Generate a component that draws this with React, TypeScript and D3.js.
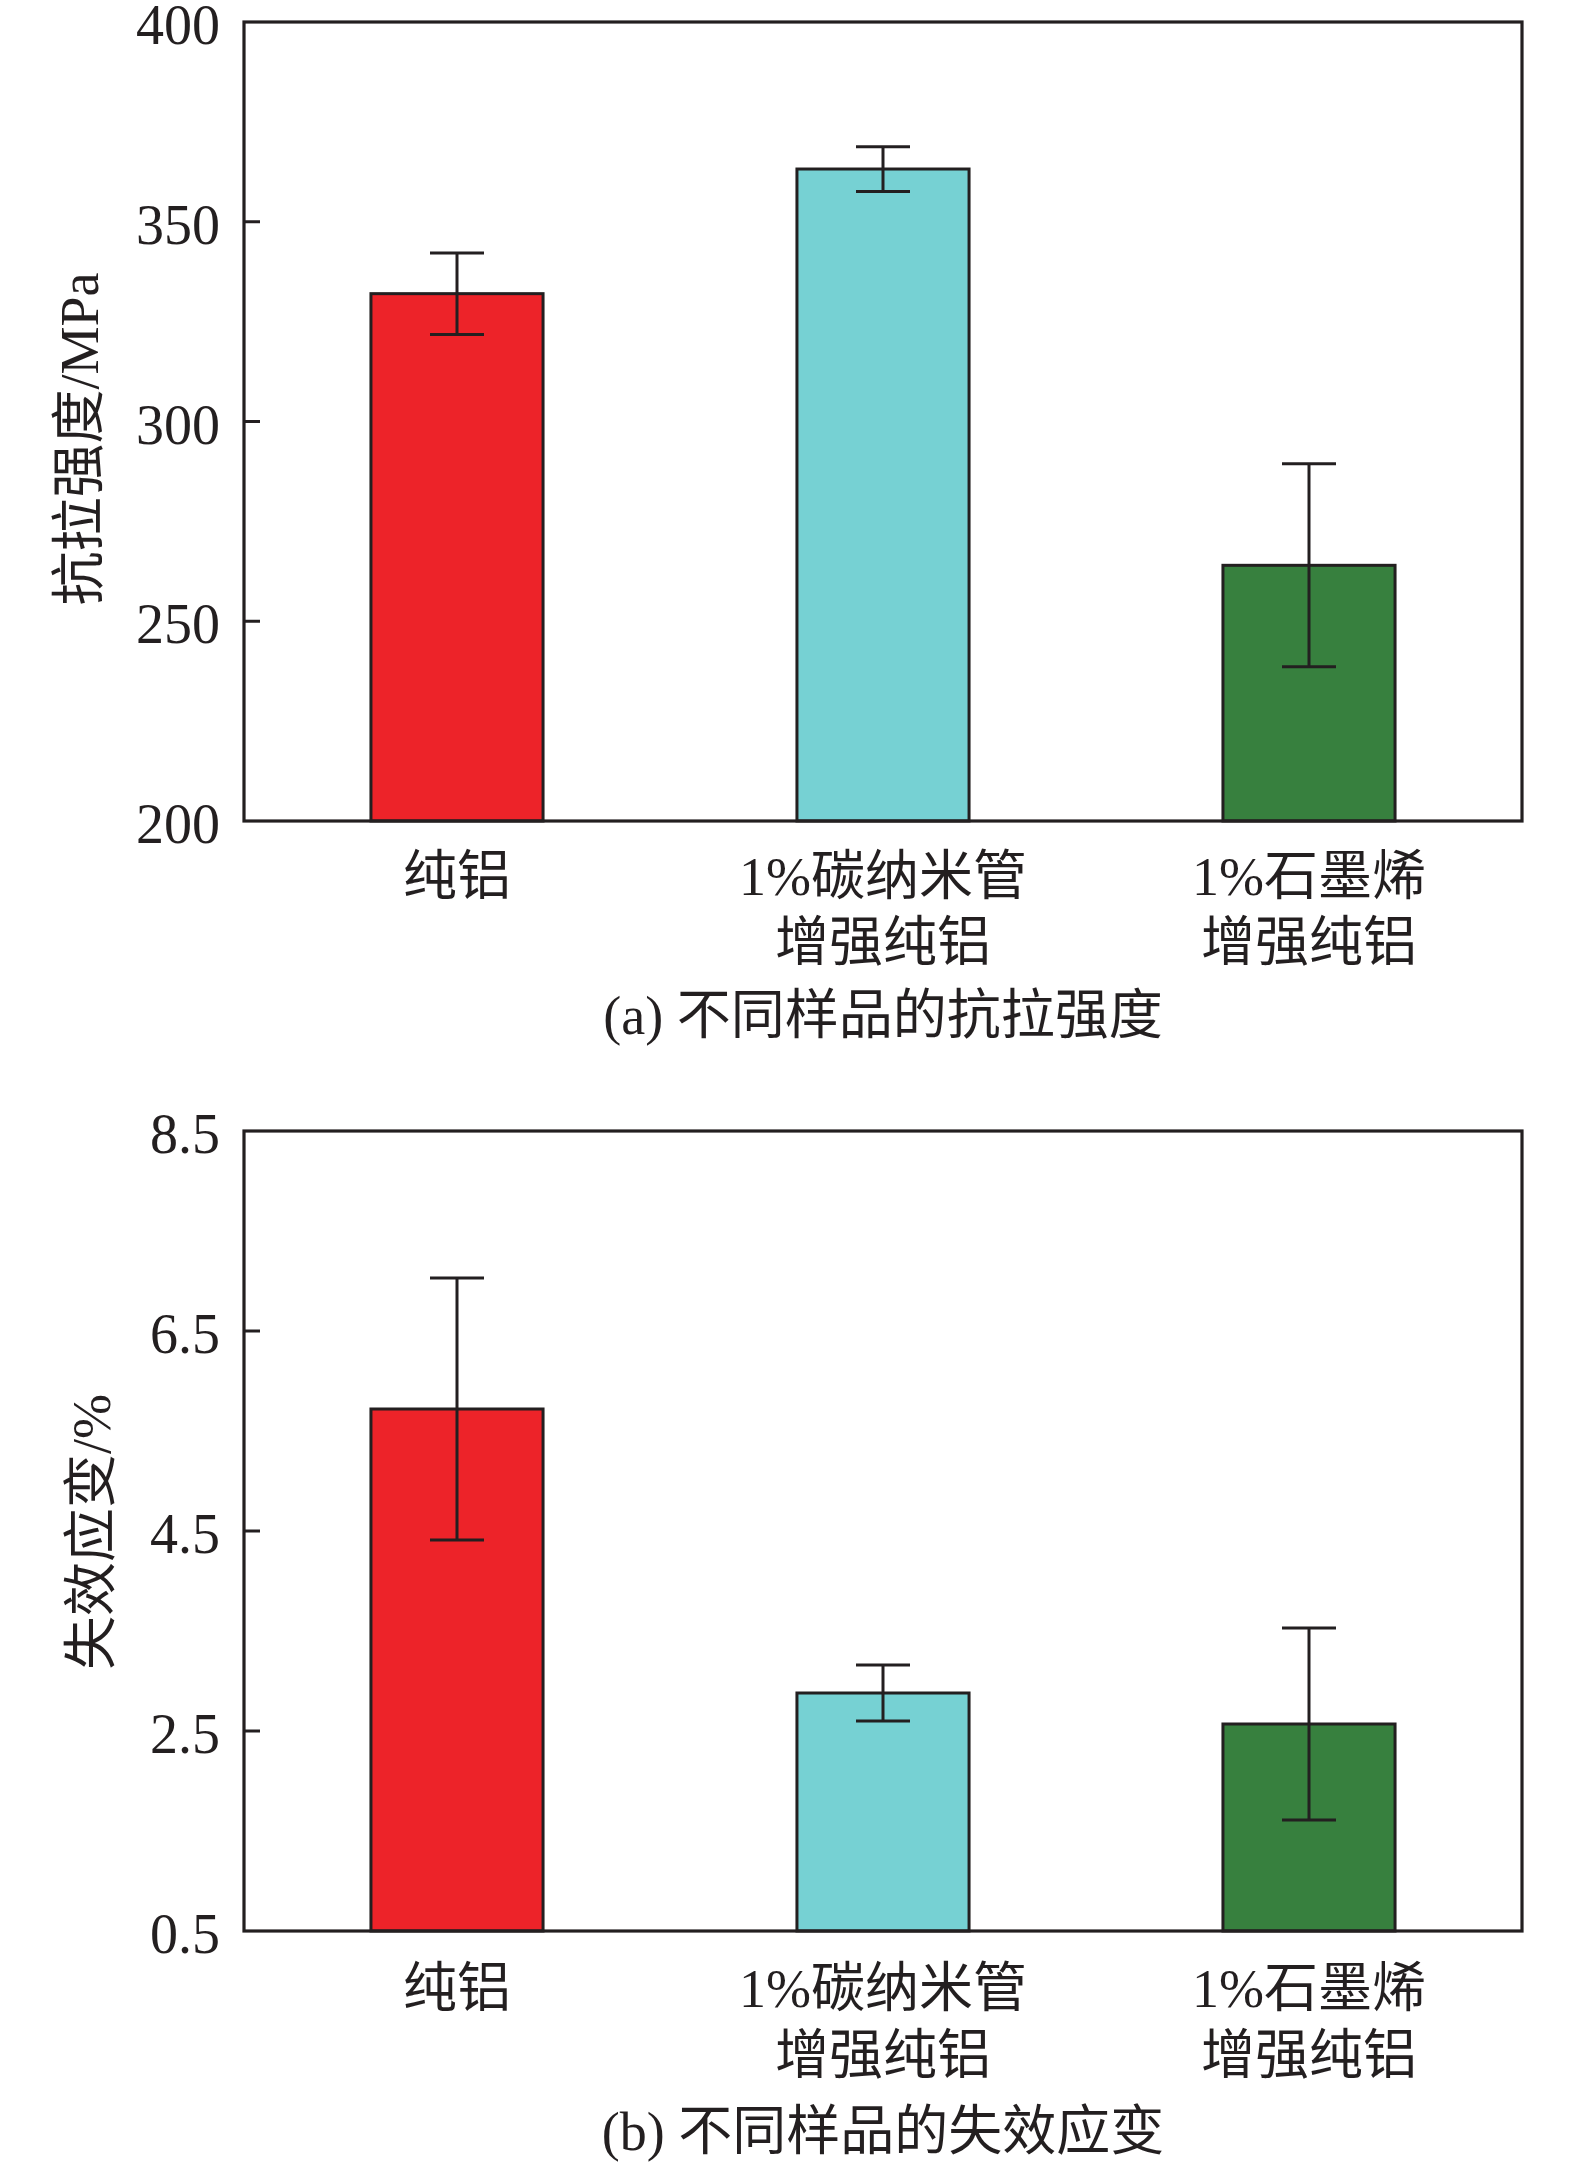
import React from "react";
import * as d3 from "d3";

const categories = ["纯铝", "1%碳纳米管\n增强纯铝", "1%石墨烯\n增强纯铝"];
const barColors = ["#ED2329", "#76D1D3", "#37803E"];

const strengthValues = [332, 363.2, 264];
const strengthErrors = [10.2, 5.6, 25.4];
const strengthTicks = [200, 250, 300, 350, 400];

const strainValues = [5.72, 2.88, 2.57];
const strainErrors = [1.31, 0.28, 0.96];
const strainTicks = [0.5, 2.5, 4.5, 6.5, 8.5];

const FONT = "'Liberation Serif', 'Times New Roman', 'Noto Sans CJK SC', serif";
const INK = "#231F20";
const FS = 54;
const TICK_FS = 56;

type PanelProps = {
  values: number[];
  errors: number[];
  ticks: number[];
  top: number;
  bottom: number;
  yLabel: string;
  yLabelX: number;
  yLabelY: number;
  caption: string;
  line1: number;
  line2: number;
  capY: number;
};

const LEFT = 244;
const RIGHT = 1522;

function Panel(p: PanelProps) {
  const domain: [number, number] = [p.ticks[0], p.ticks[p.ticks.length - 1]];
  const y = d3.scaleLinear().domain(domain).range([p.bottom, p.top]);
  const x = d3
    .scaleBand<string>()
    .domain(categories)
    .range([LEFT, RIGHT])
    .paddingInner(0.596)
    .paddingOuter(0.298);
  const bw = x.bandwidth();
  const cap = 27;
  return (
    <g>
      {categories.map((c, i) => {
        const x0 = x(c)!;
        const cx = x0 + bw / 2;
        const yv = y(p.values[i]);
        const yt = y(p.values[i] + p.errors[i]);
        const yb = y(p.values[i] - p.errors[i]);
        return (
          <g key={c}>
            <rect
              x={x0}
              y={yv}
              width={bw}
              height={p.bottom - yv}
              fill={barColors[i]}
              stroke={INK}
              strokeWidth={3}
            />
            <line x1={cx} x2={cx} y1={yt} y2={yb} stroke={INK} strokeWidth={3} />
            <line x1={cx - cap} x2={cx + cap} y1={yt} y2={yt} stroke={INK} strokeWidth={3} />
            <line x1={cx - cap} x2={cx + cap} y1={yb} y2={yb} stroke={INK} strokeWidth={3} />
            {c.split("\n").map((ln, k) => (
              <text
                key={k}
                x={cx}
                y={p.bottom + (k === 0 ? p.line1 : p.line2)}
                textAnchor="middle"
                fontSize={FS}
                fill={INK}
              >
                {ln}
              </text>
            ))}
          </g>
        );
      })}
      <rect
        x={LEFT}
        y={p.top}
        width={RIGHT - LEFT}
        height={p.bottom - p.top}
        fill="none"
        stroke={INK}
        strokeWidth={3.2}
      />
      {p.ticks.map((t, i) => (
        <g key={t}>
          {i > 0 && i < p.ticks.length - 1 && (
            <line x1={LEFT} x2={LEFT + 16} y1={y(t)} y2={y(t)} stroke={INK} strokeWidth={3} />
          )}
          <text x={220} y={y(t) + 22} textAnchor="end" fontSize={TICK_FS} fill={INK}>
            {t.toString()}
          </text>
        </g>
      ))}
      <text
        transform={`translate(${p.yLabelX + 20},${p.yLabelY}) rotate(-90)`}
        textAnchor="middle"
        fontSize={FS}
        fill={INK}
      >
        {p.yLabel}
      </text>
      <text
        x={(LEFT + RIGHT) / 2}
        y={p.bottom + p.capY}
        textAnchor="middle"
        fontSize={FS}
        fill={INK}
      >
        {p.caption}
      </text>
    </g>
  );
}

export default function App() {
  return (
    <div style={{ position: "absolute", left: 0, top: 0 }}>
      <svg width={1575} height={2165} style={{ display: "block", fontFamily: FONT }}>
        <rect width={1575} height={2165} fill="#fff" />
        <Panel
          values={strengthValues}
          errors={strengthErrors}
          ticks={strengthTicks}
          top={22}
          bottom={821}
          yLabel="抗拉强度/MPa"
          yLabelX={78}
          yLabelY={439}
          caption="(a) 不同样品的抗拉强度"
          line1={74}
          line2={140}
          capY={213}
        />
        <Panel
          values={strainValues}
          errors={strainErrors}
          ticks={strainTicks}
          top={1131}
          bottom={1931}
          yLabel="失效应变/%"
          yLabelX={90}
          yLabelY={1532}
          caption="(b) 不同样品的失效应变"
          line1={76}
          line2={143}
          capY={219}
        />
      </svg>
    </div>
  );
}
